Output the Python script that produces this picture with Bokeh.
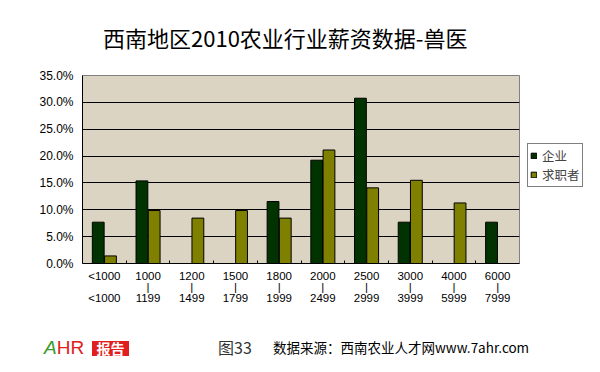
import numpy as np
from bokeh.plotting import figure
from bokeh.layouts import column
from bokeh.models import (ColumnDataSource, Range1d, FixedTicker, NumeralTickFormatter,
                          Legend, LegendItem, Div)
from bokeh.transform import dodge
from bokeh.embed import file_html
from bokeh.resources import INLINE

nan = float("nan")

# ---- data ----
range_low = ["<1000", "1000", "1200", "1500", "1800", "2000", "2500", "3000", "4000", "6000"]
range_high = ["<1000", "1199", "1499", "1799", "1999", "2499", "2999", "3999", "5999", "7999"]
enterprise = [0.0769, 0.1538, nan, nan, 0.1154, 0.1923, 0.3077, 0.0769, nan, 0.0769]
jobseeker = [0.0141, 0.0986, 0.0845, 0.0986, 0.0845, 0.2113, 0.1408, 0.1549, 0.1127, nan]
series_names = ["企业", "求职者"]
y_ticks = [0.0, 0.05, 0.10, 0.15, 0.20, 0.25, 0.30, 0.35]
title_text = "西南地区2010农业行业薪资数据-兽医"
fig_text = "图33"
source_text = "数据来源：西南农业人才网www.7ahr.com"

C_ENT = "#003300"
C_JOB = "#808000"
CJK = "Noto Sans CJK SC"
W = 584
H_TITLE = 60
H_FOOT = 36

n = len(range_low)
xs = np.arange(n) + 0.5
src = ColumnDataSource(dict(x=xs, ent=enterprise, job=jobseeker))

p = figure(frame_width=437, frame_height=188, output_backend="svg", toolbar_location=None,
           x_range=Range1d(0, n), y_range=Range1d(0, 0.35),
           min_border_left=82, min_border_right=65, min_border_top=75 - H_TITLE,
           min_border_bottom=57)
p.border_fill_color = "white"
p.background_fill_color = "#dcd4c3"
p.outline_line_color = "#808080"
p.outline_line_width = 1

r1 = p.vbar(x=dodge("x", -0.14, range=p.x_range), top="ent", width=0.27, source=src,
            fill_color=C_ENT, line_color="black", line_width=1)
r2 = p.vbar(x=dodge("x", 0.14, range=p.x_range), top="job", width=0.27, source=src,
            fill_color=C_JOB, line_color="black", line_width=1)

p.yaxis.ticker = FixedTicker(ticks=y_ticks)
p.yaxis.formatter = NumeralTickFormatter(format="0.0%")
p.yaxis.major_label_text_font = "Liberation Sans"
p.yaxis.major_label_text_font_size = "12px"
p.yaxis.major_label_text_color = "black"
p.yaxis.major_tick_in = 0
p.yaxis.major_tick_out = 0
p.yaxis.minor_tick_line_color = None
p.yaxis.major_label_standoff = 9
p.yaxis.axis_line_color = "black"

p.xaxis.ticker = FixedTicker(ticks=list(xs), minor_ticks=list(np.arange(1, n)))
p.xaxis.major_label_overrides = {float(x): (lo + "\n\n" + hi) if lo == hi else (lo + "\n|\n" + hi)
                                 for x, lo, hi in zip(xs, range_low, range_high)}
p.xaxis.major_label_text_font = "Liberation Sans"
p.xaxis.major_label_text_font_size = "11.5px"
p.xaxis.major_label_text_color = "black"
p.xaxis.major_label_text_line_height = 0.95
p.xaxis.major_tick_line_color = None
p.xaxis.minor_tick_in = 3
p.xaxis.minor_tick_out = 0
p.xaxis.minor_tick_line_color = "black"
p.xaxis.major_label_standoff = 0
p.xaxis.axis_line_color = "black"

p.xgrid.grid_line_color = None
p.ygrid.grid_line_color = "black"
p.ygrid.grid_line_width = 1

legend = Legend(items=[LegendItem(label=series_names[0], renderers=[r1]),
                       LegendItem(label=series_names[1], renderers=[r2])],
                location=(8, 76))
legend.glyph_width = 7
legend.glyph_height = 7
legend.label_height = 12
legend.label_width = 38
legend.spacing = 0
legend.padding = 2
legend.margin = 0
legend.label_standoff = 5
legend.label_text_font = CJK
legend.label_text_font_size = "12.5px"
legend.border_line_color = "black"
legend.border_line_width = 1
legend.background_fill_color = "white"
p.add_layout(legend, "right")

# title strip
title_html = (
    f'<div style="position:relative;width:{W}px;height:{H_TITLE}px;margin:0;padding:0;">'
    f'<span style="position:absolute;left:103px;top:26px;font-family:\'{CJK}\';'
    f'font-size:22px;line-height:22px;color:black;white-space:nowrap;">{title_text}</span>'
    '</div>'
)
title_div = Div(text=title_html, width=W, height=H_TITLE, margin=(0, 0, 0, 0))

# footer strip
footer_html = (
    f'<div style="position:relative;width:{W}px;height:{H_FOOT}px;margin:0;padding:0;">'
    '<span style="position:absolute;left:44px;top:18px;font-family:\'Liberation Sans\';'
    'font-size:19px;line-height:19px;white-space:nowrap;">'
    '<i style="color:#3a9a2a;">A</i><span style="color:#e02020;">HR</span></span>'
    '<span style="position:absolute;left:92px;top:21px;width:37px;height:15px;'
    f'background:#e02020;color:white;font-family:\'{CJK}\';font-weight:bold;'
    'font-size:14px;line-height:15px;text-align:center;white-space:nowrap;">报告</span>'
    f'<span style="position:absolute;left:218px;top:19px;font-family:\'{CJK}\';'
    f'font-size:16px;line-height:16px;color:#333333;white-space:nowrap;">{fig_text}</span>'
    f'<span style="position:absolute;left:273px;top:20px;font-family:\'{CJK}\';'
    f'font-size:13.5px;line-height:14px;color:black;white-space:nowrap;">{source_text}</span>'
    '</div>'
)
footer_div = Div(text=footer_html, width=W, height=H_FOOT, margin=(0, 0, 0, 0))

layout = column(title_div, p, footer_div, spacing=0)

open("out.html", "w").write(file_html(layout, INLINE))
